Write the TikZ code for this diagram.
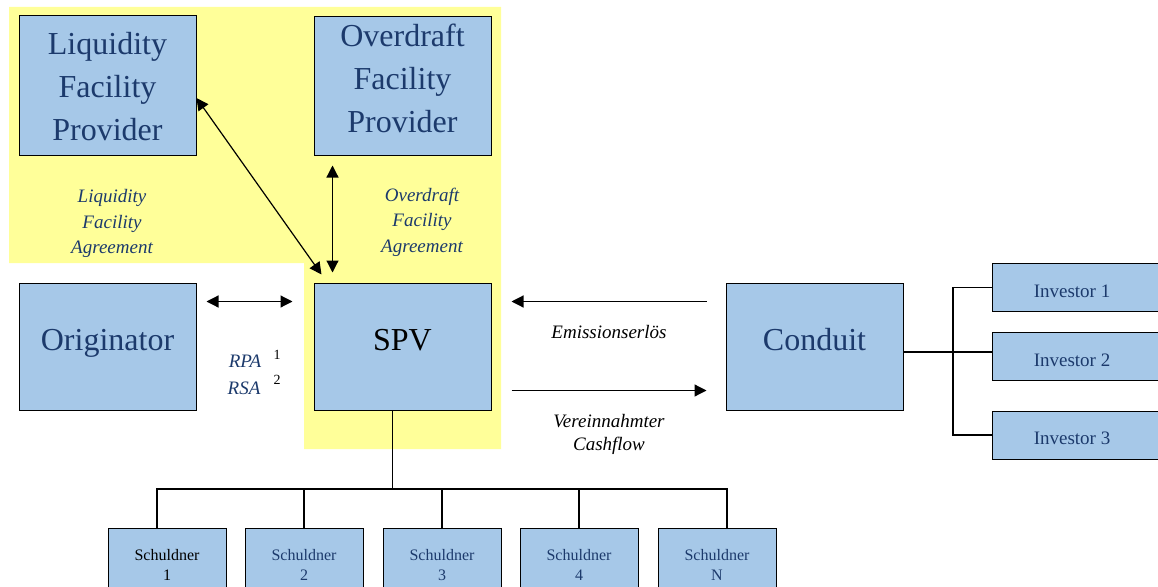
\documentclass[tikz,border=0pt]{standalone}
\usepackage{fontspec}
\setmainfont{Liberation Serif}
\usetikzlibrary{arrows.meta}
\definecolor{boxblue}{RGB}{166,200,232}
\definecolor{txtblue}{RGB}{28,58,108}
\definecolor{bgyellow}{RGB}{255,255,153}

\newcommand{\boxline}[2]{\raisebox{#1}[0pt][0pt]{#2}}
\newcommand{\stackedname}[2]{\raisebox{#1}[0pt][0pt]{\begin{tabular}[t]{@{}c@{}}#2\end{tabular}}}

\tikzset{
	party/.style={draw, line width=1pt, fill=boxblue, inner sep=0pt, align=center, text=txtblue, font=\fontsize{32}{43}\selectfont},
	investor/.style={party, minimum width=170pt, minimum height=48pt, font=\fontsize{19}{23}\selectfont},
	debtor/.style={party, minimum width=118pt, minimum height=74pt, font=\fontsize{16}{20}\selectfont},
	agreement/.style={align=center, text=txtblue, font=\fontsize{19}{25.5}\selectfont\itshape},
	flowtext/.style={align=center, font=\fontsize{19}{23}\selectfont\itshape},
	flow/.style={line width=1.2pt, -{Triangle[length=12pt,width=12pt]}},
	twoway/.style={line width=1.2pt, {Triangle[length=12pt,width=12pt]}-{Triangle[length=12pt,width=12pt]}},
	tie/.style={line width=1.2pt}
}

\begin{document}
\begin{tikzpicture}[x=1pt, y=-1pt]
	\clip (0,0) rectangle (1158,586);
	\fill[bgyellow] (9,7) -- (501,7) -- (501,449) -- (304,449) -- (304,263) -- (9,263) -- cycle;

	\node[party, minimum width=177pt, minimum height=139pt] (lfp) at (107.5,85.5) {\stackedname{31.5pt}{Liquidity\\Facility\\Provider}};
	\node[party, minimum width=177pt, minimum height=138pt] (ofp) at (402.5,86) {\stackedname{39.5pt}{Overdraft\\Facility\\Provider}};
	\node[party, minimum width=177pt, minimum height=127pt] (orig) at (107.5,346.5) {\boxline{-3.5pt}{Originator}};
	\node[party, minimum width=177pt, minimum height=127pt, text=black] (spv) at (402.5,346.5) {\boxline{-3.5pt}{SPV}};
	\node[party, minimum width=177pt, minimum height=127pt] (cond) at (814.5,346.5) {\boxline{-3.5pt}{Conduit}};

	\node[investor] (inv1) at (1077,287.5) {\boxline{-10pt}{Investor 1}\hspace*{10pt}};
	\node[investor] (inv2) at (1077,356) {\boxline{-10pt}{Investor 2}\hspace*{10pt}};
	\node[investor] (inv3) at (1077,435) {\boxline{-9pt}{Investor 3}\hspace*{10pt}};

	\foreach \i/\x/\num/\col in {1/167/1/black, 2/304/2/txtblue, 3/442/3/txtblue, 4/579/4/txtblue, N/717/N/txtblue}
		\node[debtor, text=\col] (s\i) at (\x,565) {Schuldner\\\num};

	\node[agreement] (lfa) at (112,223.5) {Liquidity\\Facility\\Agreement};
	\node[agreement] (ofa) at (422,222) {Overdraft\\Facility\\Agreement};
	\node[agreement] (rpa) at (245,361) {RPA};
	\node[agreement] (rsa) at (244,388) {RSA};
	\node[font=\fontsize{14}{16}\selectfont] (rpanum) at (277,355) {1};
	\node[font=\fontsize{14}{16}\selectfont] (rsanum) at (277,380) {2};
	\node[flowtext] (emis) at (609,332) {Emissionserlös};
	\node[flowtext] (cash) at (609,434) {Vereinnahmter\\Cashflow};

	\draw[twoway] (lfp.-8) -- ([xshift=8pt,yshift=8pt]spv.north west);
	\draw[twoway] ([xshift=19pt,yshift=-10pt]ofp.south west) -- ([xshift=19pt,yshift=10pt]spv.north west);
	\draw[twoway] ([xshift=10pt,yshift=-19pt]orig.north east) -- ([xshift=-21pt,yshift=-19pt]spv.north west);
	\draw[flow] ([xshift=-19pt,yshift=-19pt]cond.north west) -- ([xshift=20pt,yshift=-19pt]spv.north east);
	\draw[flow] ([xshift=20pt,yshift=20pt]spv.south east) -- ([xshift=-19pt,yshift=20pt]cond.south west);

	\coordinate (ibus) at (953,0);
	\draw[tie] ([yshift=4pt]inv2.west -| cond.east) -- ([yshift=4pt]inv2.west);
	\draw[tie] (inv1.west) -- (inv1.west -| ibus) -- (inv3.west -| ibus) -- (inv3.west);

	\coordinate (sbus) at (0,489);
	\draw[tie] ([xshift=-10pt]spv.south) -- ([xshift=-10pt]spv.south |- sbus);
	\draw[tie] ([xshift=-10pt]s1.north) -- ([xshift=-10pt]s1.north |- sbus) -- ([xshift=10pt]sN.north |- sbus) -- ([xshift=10pt]sN.north);
	\foreach \i in {2,3,4}
		\draw[tie] (s\i.north) -- (s\i.north |- sbus);
\end{tikzpicture}
\end{document}
